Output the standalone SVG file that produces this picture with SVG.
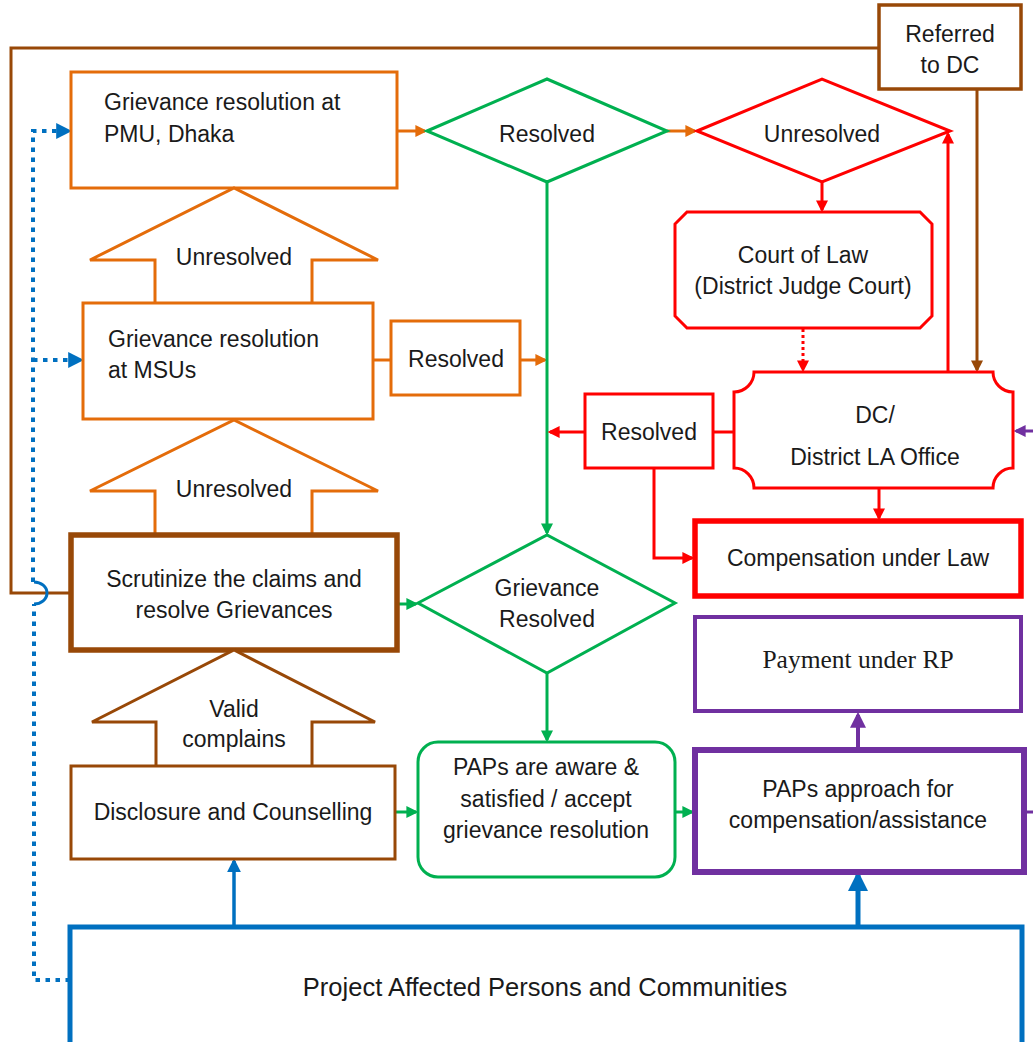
<svg xmlns="http://www.w3.org/2000/svg" width="1033" height="1042" viewBox="0 0 1033 1042">
<style>
.t{font-family:"Liberation Sans",Arial,sans-serif;font-size:23px;fill:#1a1a1a}
.c{text-anchor:middle}
.or{stroke:#E46C0A;fill:#fff;stroke-width:3}
.br{stroke:#984807;fill:#fff;stroke-width:3}
.gr{stroke:#00B050;fill:#fff;stroke-width:3}
.rd{stroke:#FF0000;fill:#fff;stroke-width:3}
.pu{stroke:#7030A0;fill:#fff;stroke-width:4}
.bl{stroke:#0070C0;fill:#fff;stroke-width:5}
</style>
<defs>
<marker id="m-or" viewBox="0 0 10 10" refX="8" refY="5" markerWidth="4" markerHeight="4" orient="auto"><path d="M0,0 L10,5 L0,10 z" fill="#E46C0A"/></marker>
<marker id="m-gr" viewBox="0 0 10 10" refX="8" refY="5" markerWidth="4" markerHeight="4" orient="auto"><path d="M0,0 L10,5 L0,10 z" fill="#00B050"/></marker>
<marker id="m-rd" viewBox="0 0 10 10" refX="8" refY="5" markerWidth="4" markerHeight="4" orient="auto"><path d="M0,0 L10,5 L0,10 z" fill="#FF0000"/></marker>
<marker id="m-br" viewBox="0 0 10 10" refX="8" refY="5" markerWidth="4" markerHeight="4" orient="auto"><path d="M0,0 L10,5 L0,10 z" fill="#984807"/></marker>
<marker id="m-pu" viewBox="0 0 10 10" refX="8" refY="5" markerWidth="4" markerHeight="4" orient="auto"><path d="M0,0 L10,5 L0,10 z" fill="#7030A0"/></marker>
<marker id="m-bl" viewBox="0 0 10 10" refX="8" refY="5" markerWidth="4" markerHeight="4" orient="auto"><path d="M0,0 L10,5 L0,10 z" fill="#0070C0"/></marker>
</defs>
<rect width="1033" height="1042" fill="#fff"/>

<g id="connectors" fill="none">
  <path d="M71,593 L11,593 L11,48 L879,48" stroke="#984807" stroke-width="3"/>
  <path d="M977,89 L977,370" stroke="#984807" stroke-width="3" marker-end="url(#m-br)"/>
  <path d="M70,980 L34,980 L34,604" stroke="#0070C0" stroke-width="4" stroke-dasharray="4.5 5.5"/>
  <path d="M34,604 A13 11 0 0 0 34,582" stroke="#0070C0" stroke-width="3"/>
  <path d="M33,582 L33,131 L69,131" stroke="#0070C0" stroke-width="4" stroke-dasharray="4.5 5.5" marker-end="url(#m-bl)"/>
  <path d="M33,360 L81,360" stroke="#0070C0" stroke-width="4" stroke-dasharray="4.5 5.5" marker-end="url(#m-bl)"/>
  <path d="M234,927 L234,861" stroke="#0070C0" stroke-width="3.5" marker-end="url(#m-bl)"/>
  <path d="M858,927 L858,875" stroke="#0070C0" stroke-width="5" marker-end="url(#m-bl)"/>
  <path d="M397,131 L425,131" stroke="#E46C0A" stroke-width="3" marker-end="url(#m-or)"/>
  <path d="M667,131 L695,131" stroke="#E46C0A" stroke-width="3" marker-end="url(#m-or)"/>
  <path d="M373,360 L391,360" stroke="#E46C0A" stroke-width="3"/>
  <path d="M520,360 L545,360" stroke="#E46C0A" stroke-width="3" marker-end="url(#m-or)"/>
  <path d="M547,182 L547,533" stroke="#00B050" stroke-width="3" marker-end="url(#m-gr)"/>
  <path d="M397,604 L416,604" stroke="#00B050" stroke-width="3" marker-end="url(#m-gr)"/>
  <path d="M547,673 L547,740" stroke="#00B050" stroke-width="3" marker-end="url(#m-gr)"/>
  <path d="M395,812 L416,812" stroke="#00B050" stroke-width="3" marker-end="url(#m-gr)"/>
  <path d="M675,812 L692,812" stroke="#00B050" stroke-width="3" marker-end="url(#m-gr)"/>
  <path d="M822,182 L822,210" stroke="#FF0000" stroke-width="3" marker-end="url(#m-rd)"/>
  <path d="M803,329 L803,370" stroke="#FF0000" stroke-width="3" stroke-dasharray="3 3" marker-end="url(#m-rd)"/>
  <path d="M948,372 L948,134" stroke="#FF0000" stroke-width="3" marker-end="url(#m-rd)"/>
  <path d="M734,432 L713,432" stroke="#FF0000" stroke-width="3"/>
  <path d="M585,432 L550,432" stroke="#FF0000" stroke-width="3" marker-end="url(#m-rd)"/>
  <path d="M654,468 L654,558 L692,558" stroke="#FF0000" stroke-width="3" marker-end="url(#m-rd)"/>
  <path d="M879,488 L879,518" stroke="#FF0000" stroke-width="3" marker-end="url(#m-rd)"/>
  <path d="M858,750 L858,715" stroke="#7030A0" stroke-width="4" marker-end="url(#m-pu)"/>
  <path d="M1035,431 L1016,431" stroke="#7030A0" stroke-width="3" marker-end="url(#m-pu)"/>
  <path d="M1024,812 L1035,812" stroke="#7030A0" stroke-width="3"/>
</g>

<g id="n-pmu">
  <rect class="or" x="71" y="72" width="326" height="116"/>
  <text class="t" x="104" y="110">Grievance resolution at</text>
  <text class="t" x="104" y="142">PMU, Dhaka</text>
</g>
<g id="n-unresolved-1">
  <path class="or" d="M155,303 L155,260 L90,260 L234,188 L378,260 L312,260 L312,303"/>
  <text class="t c" x="234" y="265">Unresolved</text>
</g>
<g id="n-msu">
  <rect class="or" x="83" y="303" width="290" height="116"/>
  <text class="t" x="108" y="347">Grievance resolution</text>
  <text class="t" x="108" y="378">at MSUs</text>
</g>
<g id="n-resolved-msu">
  <rect class="or" x="391" y="321" width="129" height="74"/>
  <text class="t c" x="456" y="367">Resolved</text>
</g>
<g id="n-unresolved-2">
  <path class="or" d="M155,535 L155,491 L90,491 L234,420 L378,491 L312,491 L312,535"/>
  <text class="t c" x="234" y="497">Unresolved</text>
</g>
<g id="n-scrutinize">
  <rect class="br" style="stroke-width:5.5" x="71" y="535" width="326" height="115"/>
  <text class="t c" x="234" y="587">Scrutinize the claims and</text>
  <text class="t c" x="234" y="618">resolve Grievances</text>
</g>
<g id="n-valid">
  <path class="br" d="M156,766 L156,722 L92,722 L234,650 L375,722 L312,722 L312,766"/>
  <text class="t c" x="234" y="717">Valid</text>
  <text class="t c" x="234" y="747">complains</text>
</g>
<g id="n-disclosure">
  <rect class="br" x="71" y="766" width="324" height="93"/>
  <text class="t c" x="233" y="820">Disclosure and Counselling</text>
</g>
<g id="n-diamond-resolved">
  <polygon class="gr" points="427,131 547,79 667,131 547,182"/>
  <text class="t c" x="547" y="142">Resolved</text>
</g>
<g id="n-diamond-unresolved">
  <polygon class="rd" points="697,131 822,79 950,131 822,182"/>
  <text class="t c" x="822" y="142">Unresolved</text>
</g>
<g id="n-court">
  <path class="rd" d="M687,212 L920,212 L932,224 L932,316 L920,328 L687,328 L675,316 L675,224 Z"/>
  <text class="t c" x="803" y="263">Court of Law</text>
  <text class="t c" x="803" y="294">(District Judge Court)</text>
</g>
<g id="n-referred">
  <rect class="br" style="stroke-width:3.5" x="879" y="5" width="142" height="84"/>
  <text class="t c" x="950" y="42">Referred</text>
  <text class="t c" x="950" y="73">to DC</text>
</g>
<g id="n-dc">
  <path class="rd" d="M754,372 L993,372 A20 20 0 0 0 1013,392 L1013,468 A20 20 0 0 0 993,488 L754,488 A20 20 0 0 0 734,468 L734,392 A20 20 0 0 0 754,372 Z"/>
  <text class="t c" x="875" y="423">DC/</text>
  <text class="t c" x="875" y="465">District LA Office</text>
</g>
<g id="n-resolved-dc">
  <rect class="rd" x="585" y="394" width="128" height="74"/>
  <text class="t c" x="649" y="440">Resolved</text>
</g>
<g id="n-compensation">
  <rect class="rd" style="stroke-width:5.5" x="695" y="521" width="326" height="75"/>
  <text class="t c" x="858" y="566">Compensation under Law</text>
</g>
<g id="n-payment">
  <rect class="pu" x="695" y="617" width="326" height="94"/>
  <text x="858" y="668" text-anchor="middle" style="font-family:'Liberation Serif','Times New Roman',serif;font-size:25.5px;fill:#1a1a1a">Payment under RP</text>
</g>
<g id="n-diamond-grievance">
  <polygon class="gr" points="418,603 547,535 675,603 547,673"/>
  <text class="t c" x="547" y="596">Grievance</text>
  <text class="t c" x="547" y="627">Resolved</text>
</g>
<g id="n-aware">
  <rect class="gr" x="418" y="742" width="257" height="135" rx="20" ry="20"/>
  <text class="t c" x="546" y="775">PAPs are aware &amp;</text>
  <text class="t c" x="546" y="807">satisfied / accept</text>
  <text class="t c" x="546" y="838">grievance resolution</text>
</g>
<g id="n-approach">
  <rect class="pu" style="stroke-width:6" x="695" y="750" width="329" height="122"/>
  <text class="t c" x="858" y="797">PAPs approach for</text>
  <text class="t c" x="858" y="828">compensation/assistance</text>
</g>
<g id="n-pap">
  <rect class="bl" x="70" y="927" width="952" height="130"/>
  <text class="t c" style="font-size:25.5px" x="545" y="996">Project Affected Persons and Communities</text>
</g>
</svg>
